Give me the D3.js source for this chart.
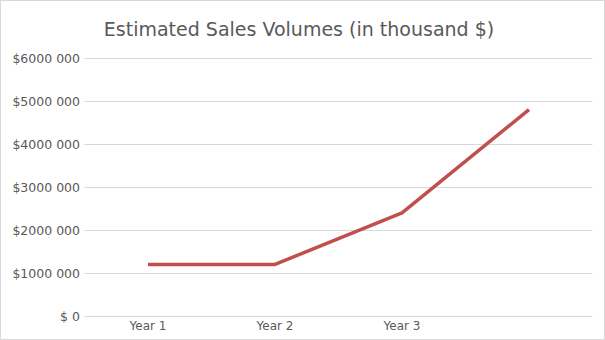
<!DOCTYPE html>
<html><head><meta charset="utf-8">
<script src="https://cdn.jsdelivr.net/npm/d3@7"></script>
<style>body{margin:0;background:#fff}svg{display:block}</style>
</head><body>
<script>
const categories = ["Year 1", "Year 2", "Year 3", ""];
const values = [1200000, 1200000, 2400000, 4800000];
const yTicks = [0, 1000000, 2000000, 3000000, 4000000, 5000000, 6000000];
const title = "Estimated Sales Volumes (in thousand $)";

const W = 605, H = 340;
const svg = d3.select("body").append("svg").attr("width", W).attr("height", H);
svg.append("rect").attr("x", 0.5).attr("y", 0.5).attr("width", W - 1).attr("height", H - 1)
  .attr("fill", "#fff").attr("stroke", "#d9d9d9");

const font = "DejaVu Sans, sans-serif";
const x = d3.scaleBand().domain(categories.map((c, i) => i)).range([84.5, 592.5]);
const y = d3.scaleLinear().domain([0, 6000000]).range([316, 58]);

const fmt = v => v === 0 ? "$ 0" : "$" + Math.floor(v / 1000) + " " + String(v % 1000).padStart(3, "0");

const g = svg.append("g");
g.selectAll("line.grid").data(yTicks).join("line")
  .attr("x1", 84.5).attr("x2", 592.5)
  .attr("y1", d => Math.round(y(d)) + 0.5).attr("y2", d => Math.round(y(d)) + 0.5)
  .attr("stroke", "#d9d9d9").attr("stroke-width", 1);

g.selectAll("text.ylab").data(yTicks).join("text")
  .attr("x", 80).attr("y", d => y(d) + 4.5)
  .attr("text-anchor", "end").attr("font-family", font).attr("font-size", 12.5)
  .attr("fill", "#595959").text(fmt);

g.selectAll("text.xlab").data(categories).join("text")
  .attr("x", (d, i) => x(i) + x.bandwidth() / 2).attr("y", 330)
  .attr("text-anchor", "middle").attr("font-family", font).attr("font-size", 12)
  .attr("fill", "#595959").text(d => d);

const line = d3.line().x((d, i) => x(i) + x.bandwidth() / 2).y(d => y(d));
svg.append("path").datum(values).attr("d", line)
  .attr("fill", "none").attr("stroke", "#c0504d").attr("stroke-width", 3.5)
  .attr("stroke-linejoin", "round");

svg.append("text").attr("x", 299).attr("y", 36).attr("text-anchor", "middle")
  .attr("font-family", font).attr("font-size", 19).attr("fill", "#595959").text(title);
</script>
</body></html>
